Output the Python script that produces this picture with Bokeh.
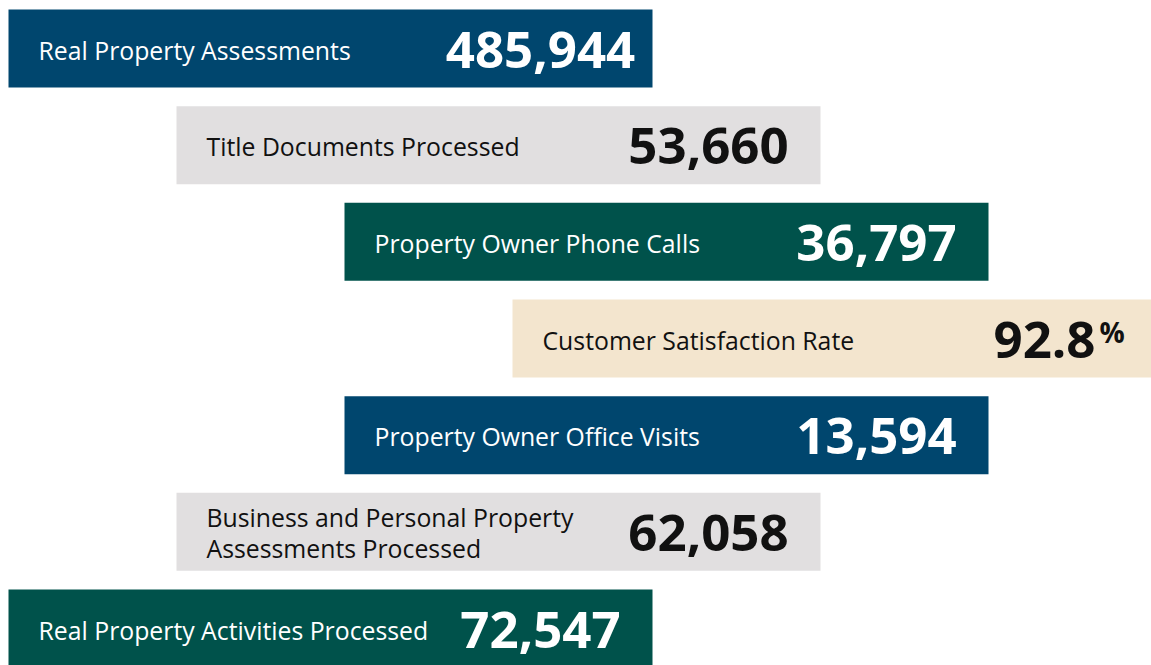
from bokeh.plotting import figure
from bokeh.models import ColumnDataSource, Range1d
from bokeh.core.properties import value
from bokeh.embed import file_html
from bokeh.resources import INLINE

# ---- data ----
labels = [
    "Real Property Assessments",
    "Title Documents Processed",
    "Property Owner Phone Calls",
    "Customer Satisfaction Rate",
    "Property Owner Office Visits",
    "Business and Personal Property\nAssessments Processed",
    "Real Property Activities Processed",
]
values = [485944, 53660, 36797, 92.8, 13594, 62058, 72547]
suffixes = ["", "", "", "%", "", "", ""]
fill_colors = ["#00466e", "#e1dfe0", "#00524b", "#f3e5ce", "#00466e", "#e1dfe0", "#00524b"]
text_colors = ["#ffffff", "#111111", "#ffffff", "#111111", "#ffffff", "#111111", "#ffffff"]

# ---- layout ----
W, H = 1151, 665
BAR_W, BAR_H = 644, 78
PITCH = 96.67
STEP = 168
n = len(labels)
mid = (n - 1) // 2

def fmt(v):
    return f"{v:,.1f}" if isinstance(v, float) else f"{v:,}"

lefts = [STEP * (mid - abs(i - mid)) for i in range(n)]
tops = [1 + i * PITCH for i in range(n)]
src = ColumnDataSource(dict(
    left=lefts,
    right=[l + BAR_W for l in lefts],
    top=tops,
    bottom=[t + BAR_H for t in tops],
    ymid=[t + BAR_H / 2 + 1 for t in tops],
    lx=[l + 30 for l in lefts],
    nx=[l + 532 for l in lefts],
    label=labels,
    num=[fmt(v) for v in values],
    fill=fill_colors,
    tcol=text_colors,
))
sfx_idx = [i for i, s in enumerate(suffixes) if s]
sfx_src = ColumnDataSource(dict(
    x=[lefts[i] + 587 for i in sfx_idx],
    y=[tops[i] + 13 for i in sfx_idx],
    s=[suffixes[i] for i in sfx_idx],
    tcol=[text_colors[i] for i in sfx_idx],
))

p = figure(width=W, height=H, output_backend="svg", toolbar_location=None,
           x_range=Range1d(-8, W - 8), y_range=Range1d(H - 8, -8),
           min_border=0, outline_line_color=None)
p.axis.visible = False
p.grid.visible = False
p.background_fill_color = "white"

p.quad(left="left", right="right", top="top", bottom="bottom", source=src,
       fill_color="fill", line_color=None)
p.text(x="lx", y="ymid", text="label", source=src, text_color="tcol",
       text_font=value("Open Sans"), text_font_size="24.8px",
       text_baseline="middle", text_align="left", text_line_height=0.92)
p.text(x="nx", y="ymid", text="num", source=src, text_color="tcol",
       text_font=value("Open Sans"), text_font_style="bold", text_font_size="51px",
       text_baseline="middle", text_align="center")
p.text(x="x", y="y", text="s", source=sfx_src, text_color="tcol",
       text_font=value("Open Sans"), text_font_style="bold", text_font_size="28px",
       text_baseline="top", text_align="left")

open("out.html", "w").write(file_html(p, INLINE))
